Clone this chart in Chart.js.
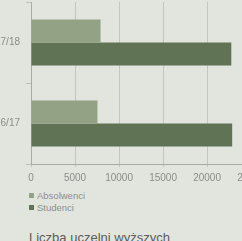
<!DOCTYPE html>
<html>
<head>
<meta charset="utf-8">
<script src="https://cdn.jsdelivr.net/npm/chart.js@4"></script>
<style>
  html, body { margin: 0; padding: 0; }
  body { width: 242px; height: 241px; overflow: hidden; position: relative; background: #e2e4de; font-family: "Liberation Sans", Arial, sans-serif; }
  #wrap { position: absolute; left: -40px; top: -10px; width: 310px; height: 199px; }
  #legend { position: absolute; left: 29px; top: 190px; font-size: 9.5px; color: #8e8f8a; line-height: 12px; }
  #legend span.box { display: inline-block; width: 5px; height: 5px; margin-right: 3px; vertical-align: 1px; }
  #title { position: absolute; left: 29px; top: 230px; font-size: 13px; color: #5c5d59; white-space: nowrap; }
</style>
</head>
<body>
<div id="wrap"><canvas id="wykres"></canvas></div>
<div id="legend"></div>
<div id="title">Liczba uczelni wyższych</div>
<script>
const lata = ["2017/18", "2016/17"];
const absolwenci = [7900, 7550];
const studenci = [22750, 22850];
const podzialka = [0, 5000, 10000, 15000, 20000, 25000];

const kolory = ["#93a285", "#607354"];
const etykiety = ["Absolwenci", "Studenci"];

const ctx = document.getElementById("wykres");
const myChart = new Chart(ctx, {
  type: "bar",
  data: {
    labels: lata,
    datasets: [
      {
        label: etykiety[0],
        data: absolwenci,
        backgroundColor: kolory[0],
        categoryPercentage: 0.57,
        barPercentage: 1,
      },
      {
        label: etykiety[1],
        data: studenci,
        backgroundColor: kolory[1],
        categoryPercentage: 0.57,
        barPercentage: 1,
      },
    ],
  },
  options: {
    indexAxis: "y",
    responsive: true,
    maintainAspectRatio: false,
    animation: false,
    layout: { padding: { top: 7 } },
    scales: {
      x: {
        min: podzialka[0],
        max: podzialka[podzialka.length - 1],
        afterBuildTicks: (scale) => {
          scale.ticks = podzialka.map((v) => ({ value: v }));
        },
        ticks: {
          color: "#8c8d88",
          font: { size: 10 },
          padding: 5,
          callback: (v) => String(v),
        },
        grid: { color: "#c4c5bf", tickLength: 3 },
        border: { color: "#a9aaa5" },
      },
      y: {
        afterFit: (scale) => { scale.width = 71; },
        ticks: { color: "#8c8d88", font: { size: 10 }, padding: 6 },
        grid: { drawOnChartArea: false, tickLength: 5, color: "#c0c1bb" },
        border: { color: "#a9aaa5" },
      },
    },
    plugins: {
      legend: { display: false },
      tooltip: { enabled: false },
    },
  },
});

const leg = document.getElementById("legend");
etykiety.forEach((t, i) => {
  const d = document.createElement("div");
  d.innerHTML = '<span class="box" style="background:' + kolory[i] + '"></span>' + t;
  leg.appendChild(d);
});
</script>
</body>
</html>
